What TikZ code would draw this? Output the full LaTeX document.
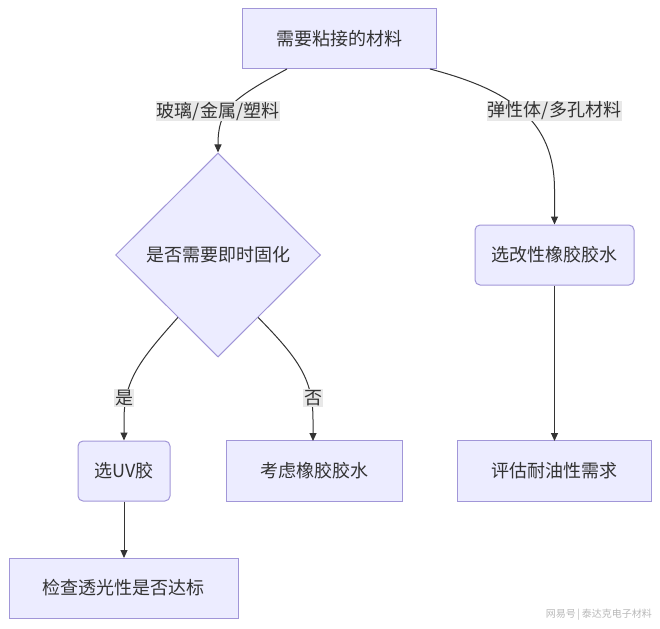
\documentclass[tikz,border=0pt]{standalone}
\usepackage{fontspec}
\setmainfont{Noto Sans CJK SC}
\usetikzlibrary{shapes.geometric,arrows.meta,calc}
\definecolor{nodefill}{HTML}{ECECFF}
\definecolor{nodeborder}{HTML}{A196D8}
\definecolor{edgecol}{HTML}{333333}
\definecolor{lblbg}{HTML}{E8E8E8}
\definecolor{wmark}{HTML}{B8B8B8}
\tikzset{
  box/.style={draw=nodeborder, fill=nodefill, line width=1pt, text=edgecol, inner sep=0pt,
    font=\fontsize{18}{21}\selectfont},
  rbox/.style={box, rounded corners=5pt},
  dec/.style={box, shape=diamond, minimum width=205pt, minimum height=204pt},
  lbl/.style={fill=lblbg, text=edgecol, inner sep=1pt, font=\fontsize{18}{21}\selectfont},
  edge/.style={draw=edgecol, line width=1pt, -{Triangle[length=8pt,width=7pt]}},
}
\begin{document}
\begin{tikzpicture}[x=1pt,y=-1pt]
\useasboundingbox (0,0) rectangle (660,628);
\node[box, minimum width=194pt, minimum height=60pt] (top) at (339,39) {需要粘接的材料};
\node[dec] (dq) at (218,255) {是否需要即时固化};
\node[rbox, minimum width=159pt, minimum height=60pt] (rub) at (554.5,255) {选改性橡胶胶水};
\node[rbox, minimum width=92pt, minimum height=60pt] (uv) at (124,471) {选UV胶};
\node[box, minimum width=176pt, minimum height=61pt] (cons) at (314,471) {考虑橡胶胶水};
\node[box, minimum width=194pt, minimum height=61pt] (oil) at (554,471) {评估耐油性需求};
\node[box, minimum width=229pt, minimum height=60pt] (chk) at (123.5,588) {检查透光性是否达标};

\coordinate (tl) at (287,69);
\coordinate (tr) at (430,69);
\path[edge] (tl) .. controls (230,100) and (218,110) .. (dq.north);
\path[edge] (tr) .. controls (510,90) and (554.5,120) .. (554.5,190) -- (rub.north);
\coordinate (dl) at ($(dq.south)!0.39!(dq.west)$);
\coordinate (dr) at ($(dq.south)!0.39!(dq.east)$);
\path[edge] (dl) .. controls (140,360) and (124,380) .. (124,420) -- (uv.north);
\path[edge] (dr) .. controls (300,360) and (313,380) .. (313,420) -- (313,441);
\path[edge] (rub.south) -- (554.5,441);
\path[edge] (uv.south) -- (124,558);

\node[lbl] (l1) at (218,111) {玻璃/金属/塑料};
\node[lbl] (l2) at (554.5,111) {弹性体/多孔材料};
\node[lbl] (l3) at (124,398) {是};
\node[lbl] (l4) at (313,398) {否};

\node[text=wmark, font=\fontsize{10}{12}\selectfont, anchor=east, inner sep=0pt] (wm) at (652,615) {网易号\,|\,泰达克电子材料};
\end{tikzpicture}
\end{document}
